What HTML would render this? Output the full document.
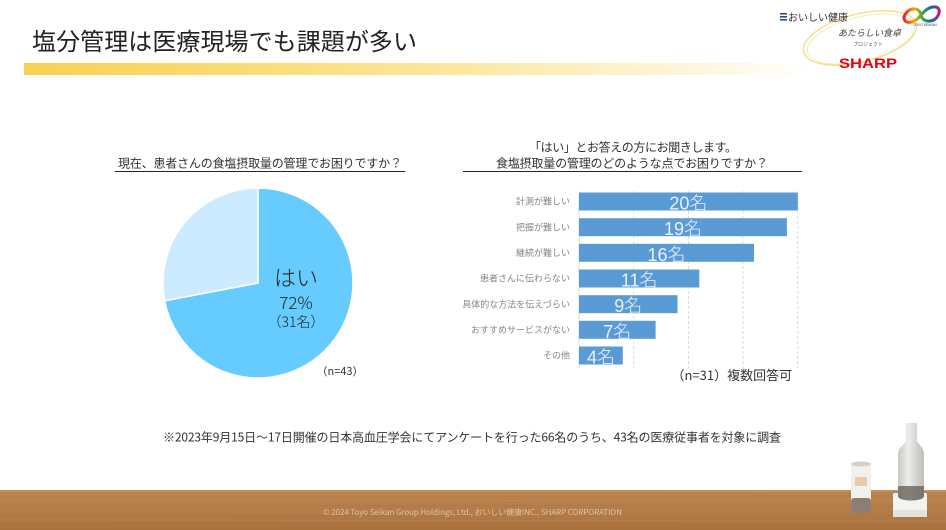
<!DOCTYPE html>
<html><head><meta charset="utf-8"><style>
html,body{margin:0;padding:0;background:#fff;}
svg{display:block;}
text{font-family:"Liberation Sans","Noto Sans CJK JP",sans-serif;}
.jp{font-family:"Noto Sans CJK JP","Liberation Sans",sans-serif;}
.lt{font-weight:300;}
</style></head><body>
<svg width="946" height="530" viewBox="0 0 946 530" xmlns="http://www.w3.org/2000/svg">
<defs>
<linearGradient id="yb" x1="0" x2="1" y1="0" y2="0">
<stop offset="0" stop-color="#F8D152"/>
<stop offset="0.45" stop-color="#FBE38C"/>
<stop offset="0.8" stop-color="#FEF4D2"/>
<stop offset="1" stop-color="#FFFFFF"/>
</linearGradient>
<linearGradient id="wood" x1="0" x2="0" y1="0" y2="1">
<stop offset="0" stop-color="#BC8550"/>
<stop offset="0.5" stop-color="#B47C48"/>
<stop offset="1" stop-color="#AA723F"/>
</linearGradient>
<linearGradient id="bottle" x1="0" x2="1">
<stop offset="0" stop-color="#C9C9C4"/>
<stop offset="0.4" stop-color="#EDEDE9"/>
<stop offset="1" stop-color="#BDBDB8"/>
</linearGradient>
<linearGradient id="toyo" x1="0" x2="1">
<stop offset="0" stop-color="#E8212B"/>
<stop offset="0.3" stop-color="#F7A600"/>
<stop offset="0.55" stop-color="#2EA74A"/>
<stop offset="0.8" stop-color="#1A5BB8"/>
<stop offset="1" stop-color="#C2188B"/>
</linearGradient>
</defs>

<!-- Title -->
<text class="jp" x="32" y="50" font-size="24" fill="#222" textLength="385">塩分管理は医療現場でも課題が多い</text>
<rect x="24" y="63" width="790" height="12" fill="url(#yb)"/>

<!-- Logo -->
<g>
<ellipse cx="860" cy="38" rx="58" ry="24" transform="rotate(-14 860 38)" fill="none" stroke="#F3DA7A" stroke-width="1.2"/>
<ellipse cx="861" cy="39" rx="55" ry="22" transform="rotate(-14 861 39)" fill="none" stroke="#F7E6A8" stroke-width="0.8"/>
<g fill="#2B4C8C">
<rect x="780" y="13" width="7" height="1.6"/>
<rect x="780" y="16" width="7" height="1.6"/>
<rect x="780" y="19" width="7" height="1.6"/>
</g>
<text class="jp" x="788" y="21" font-size="10" fill="#333">おいしい健康</text>
<text class="jp" x="838" y="36" font-size="9" fill="#444" font-style="italic">あたらしい食卓</text>
<text class="jp" x="853" y="46" font-size="5" fill="#555">プロジェクト</text>
<text x="839" y="68" font-size="14" font-weight="bold" fill="#E60012" textLength="58" lengthAdjust="spacingAndGlyphs" style="font-family:'Liberation Sans',sans-serif">SHARP</text>
<path d="M904,17 C908,6 920,7 921,15 C922,23 936,24 939,13 C941,5 930,4 921,15 C914,24 904,25 904,17 Z" fill="none" stroke="url(#toyo)" stroke-width="3"/>
<text x="913" y="26" font-size="3.5" fill="#333">TOYO SEIKAN</text>
</g>

<!-- Left pie question -->
<text class="jp" x="260" y="167.5" font-size="12" fill="#333" text-anchor="middle" textLength="284">現在、患者さんの食塩摂取量の管理でお困りですか？</text>
<line x1="115" y1="171.5" x2="405" y2="171.5" stroke="#222" stroke-width="1"/>

<!-- Pie -->
<path d="M258,283 L258,188 A95,95 0 1 1 164.68,300.8 Z" fill="#66CCFF" stroke="#fff" stroke-width="1.5"/>
<path d="M258,283 L164.68,300.8 A95,95 0 0 1 258,188 Z" fill="#CCEBFF" stroke="#fff" stroke-width="1.5"/>
<text class="jp lt" x="296" y="286" font-size="22" fill="#222" text-anchor="middle">はい</text>
<text class="jp lt" x="296" y="309" font-size="17" fill="#222" text-anchor="middle">72%</text>
<text class="jp lt" x="296" y="327" font-size="14" fill="#222" text-anchor="middle">（31名）</text>
<text class="jp" x="316.5" y="375" font-size="11" fill="#333">（n=43）</text>

<!-- Right bar question -->
<text class="jp" x="633" y="151.5" font-size="12" fill="#333" text-anchor="middle" textLength="208">「はい」とお答えの方にお聞きします。</text>
<text class="jp" x="632" y="167.5" font-size="12" fill="#333" text-anchor="middle" textLength="272">食塩摂取量の管理のどのような点でお困りですか？</text>
<line x1="463" y1="171.5" x2="802" y2="171.5" stroke="#222" stroke-width="1"/>

<!-- Grid -->
<g stroke="#D4D4D4" stroke-width="0.8" stroke-dasharray="3,2">
<line x1="633.7" y1="191" x2="633.7" y2="368"/>
<line x1="688.4" y1="191" x2="688.4" y2="368"/>
<line x1="743.1" y1="191" x2="743.1" y2="368"/>
<line x1="797.8" y1="191" x2="797.8" y2="368"/>
</g>
<line x1="579" y1="191" x2="579" y2="368" stroke="#D9D9D9" stroke-width="0.8"/>

<!-- Bars -->
<g fill="#5B9BD5">
<rect x="579" y="192.5" width="218.8" height="18"/>
<rect x="579" y="218.2" width="207.9" height="18"/>
<rect x="579" y="243.8" width="175" height="18"/>
<rect x="579" y="269.5" width="120.3" height="18"/>
<rect x="579" y="295.2" width="98.5" height="18"/>
<rect x="579" y="320.8" width="76.6" height="18"/>
<rect x="579" y="346.5" width="43.8" height="18"/>
</g>
<g class="jp lt" font-size="18" fill="#EAF2FB" text-anchor="middle">
<text x="688.4" y="209.5">20名</text>
<text x="683" y="235.2">19名</text>
<text x="666.5" y="260.8">16名</text>
<text x="639.2" y="286.5">11名</text>
<text x="628.3" y="312.2">9名</text>
<text x="617.3" y="337.8">7名</text>
<text x="601" y="363.5">4名</text>
</g>
<g class="jp" font-size="9" fill="#858585" text-anchor="end">
<text x="570" y="204.7">計測が難しい</text>
<text x="570" y="230.4">把握が難しい</text>
<text x="570" y="256">継続が難しい</text>
<text x="570" y="281.7">患者さんに伝わらない</text>
<text x="570" y="307.4">具体的な方法を伝えづらい</text>
<text x="570" y="333">おすすめサービスがない</text>
<text x="570" y="358.7">その他</text>
</g>
<text class="jp" x="671.5" y="380" font-size="13" fill="#333">（n=31）複数回答可</text>

<!-- Footnote -->
<text class="jp" x="163" y="441.5" font-size="12" fill="#333" textLength="618">※2023年9月15日〜17日開催の日本高血圧学会にてアンケートを行った66名のうち、43名の医療従事者を対象に調査</text>

<!-- Wood footer -->
<rect x="0" y="490" width="946" height="40" fill="url(#wood)"/>
<rect x="0" y="490" width="946" height="1.5" fill="#C9955F" opacity="0.8"/>
<g stroke="#9E6736" stroke-width="0.7" opacity="0.35" fill="none">
<path d="M0,497 C200,495 400,499 946,496"/>
<path d="M0,505 C250,507 500,503 946,506"/>
<path d="M0,516 C300,514 600,518 946,515"/>
<path d="M0,524 C200,526 650,522 946,525"/>
</g>
<g stroke="#C8925C" stroke-width="0.8" opacity="0.4" fill="none">
<path d="M0,501 C300,499 600,503 946,500"/>
<path d="M0,520 C250,522 550,518 946,521"/>
</g>
<text class="jp" x="323" y="515" font-size="8" fill="#DCC3A6" textLength="299">© 2024 Toyo Seikan Group Holdings, Ltd., おいしい健康INC., SHARP CORPORATION</text>

<!-- Products -->
<g>
<rect x="851" y="463" width="20" height="50" rx="3" fill="#F2F0EC"/>
<ellipse cx="861" cy="464" rx="10" ry="2.5" fill="#D8CFC4"/>
<rect x="855" y="477" width="12" height="9" fill="#E7C9AC"/>
<rect x="851" y="498" width="20" height="15" rx="3" fill="#7A6A5E" opacity="0.85"/>
<rect x="893" y="493" width="34" height="24" rx="1.5" fill="#F3F3F1"/>
<rect x="893" y="510" width="34" height="7" fill="#E2E2DF"/>
<path d="M906,423 L917,423 L917,440 C917,444 924,446 924,455 L924,496 C924,502 898,502 898,496 L898,455 C898,446 906,444 906,440 Z" fill="url(#bottle)"/>
<path d="M898,486 L924,486 L924,496 C924,502 898,502 898,496 Z" fill="#6C625B" opacity="0.8"/>
</g>
</svg>
</body></html>
